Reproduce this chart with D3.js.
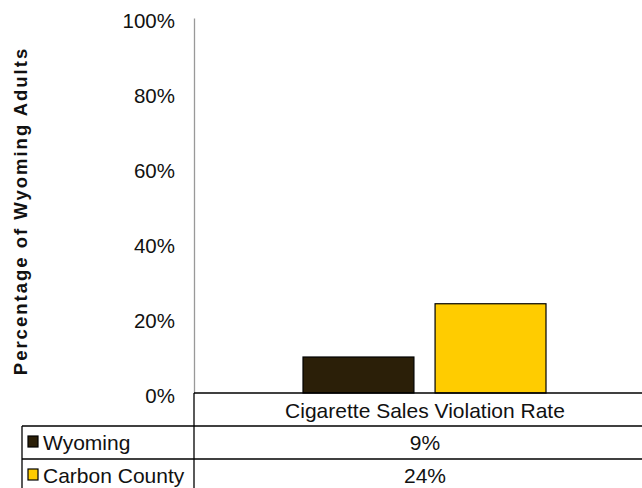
<!DOCTYPE html>
<html><head><meta charset="utf-8">
<script src="https://cdn.jsdelivr.net/npm/d3@7"></script>
<style>body{margin:0;background:#fff;overflow:hidden}svg{display:block}text{font-family:"Liberation Sans",Arial,sans-serif}</style>
</head><body><svg id="c" width="642" height="488"></svg>
<script>
const categories = ["Cigarette Sales Violation Rate"];
const seriesNames = ["Wyoming", "Carbon County"];
const wyomingValues = [9.6];
const carbonValues = [23.8];
const tableLabels = [["9%"], ["24%"]];
const yTicks = [0, 20, 40, 60, 80, 100];
const colors = ["#2b1f08", "#ffcc00"];

(function () {
const svg = d3.select("#c");
const pLeft = 194, pRight = 656, pTop = 18, pBase = 393;
const y = d3.scaleLinear().domain([0, 100]).range([pBase, pTop]);
const x0 = d3.scaleBand().domain(categories).range([pLeft, pRight]);
const x1 = d3.scaleBand().domain(seriesNames).range([109, 352]).paddingInner(0.16);
const series = [wyomingValues, carbonValues];
const fs = 21;

// y axis
const yAxis = d3.axisLeft(y).tickValues(yTicks).tickFormat(d => d + "%").tickSize(0).tickPadding(19);
const ga = svg.append("g").attr("transform", `translate(${pLeft},0)`).call(yAxis);
ga.select(".domain").attr("stroke", "#999").attr("stroke-width", 1.3);
ga.selectAll("text").attr("font-size", 20.5).attr("fill", "#111").attr("dy", "0.47em")
  .attr("font-family", '"Liberation Sans",Arial,sans-serif');

// title
svg.append("text").attr("transform", `translate(27,211) rotate(-90)`)
  .attr("text-anchor", "middle").attr("font-size", 18.5).attr("font-weight", "bold")
  .attr("letter-spacing", 2).attr("fill", "#111").text("Percentage of Wyoming Adults");

// bars
seriesNames.forEach((s, i) => {
  svg.append("g").selectAll("rect").data(categories).join("rect")
    .attr("x", c => x0(c) + x1(s))
    .attr("width", x1.bandwidth())
    .attr("y", (c, j) => y(series[i][j]))
    .attr("height", (c, j) => pBase - y(series[i][j]))
    .attr("fill", colors[i]).attr("stroke", "#000").attr("stroke-width", 1.2);
});

// data table
const rowY = [393, 426, 459, 492];
const tL = 22;
const tbl = svg.append("g").attr("stroke", "#000").attr("stroke-width", 1.3);
tbl.append("line").attr("x1", pLeft).attr("x2", pRight).attr("y1", rowY[0]).attr("y2", rowY[0]);
tbl.append("line").attr("x1", tL).attr("x2", pRight).attr("y1", rowY[1]).attr("y2", rowY[1]);
tbl.append("line").attr("x1", tL).attr("x2", pRight).attr("y1", rowY[2]).attr("y2", rowY[2]);
tbl.append("line").attr("x1", pLeft).attr("x2", pLeft).attr("y1", rowY[0]).attr("y2", 488);
tbl.append("line").attr("x1", tL).attr("x2", tL).attr("y1", rowY[1]).attr("y2", 488);

categories.forEach(c => {
  svg.append("text").attr("x", x0(c) + x0.bandwidth() / 2).attr("y", 418)
    .attr("text-anchor", "middle").attr("font-size", fs).attr("fill", "#111").text(c);
});
seriesNames.forEach((s, i) => {
  const cy = (rowY[i + 1] + rowY[i + 2]) / 2;
  svg.append("rect").attr("x", 28).attr("y", cy - 6.5).attr("width", 10).attr("height", 11)
    .attr("fill", colors[i]).attr("stroke", "#000").attr("stroke-width", 1.2);
  svg.append("text").attr("x", 43).attr("y", cy).attr("dy", "0.38em")
    .attr("font-size", fs).attr("fill", "#111").text(s);
  categories.forEach((c, j) => {
    svg.append("text").attr("x", x0(c) + x0.bandwidth() / 2).attr("y", cy).attr("dy", "0.38em")
      .attr("text-anchor", "middle").attr("font-size", fs).attr("fill", "#111").text(tableLabels[i][j]);
  });
});
})();
</script></body></html>
